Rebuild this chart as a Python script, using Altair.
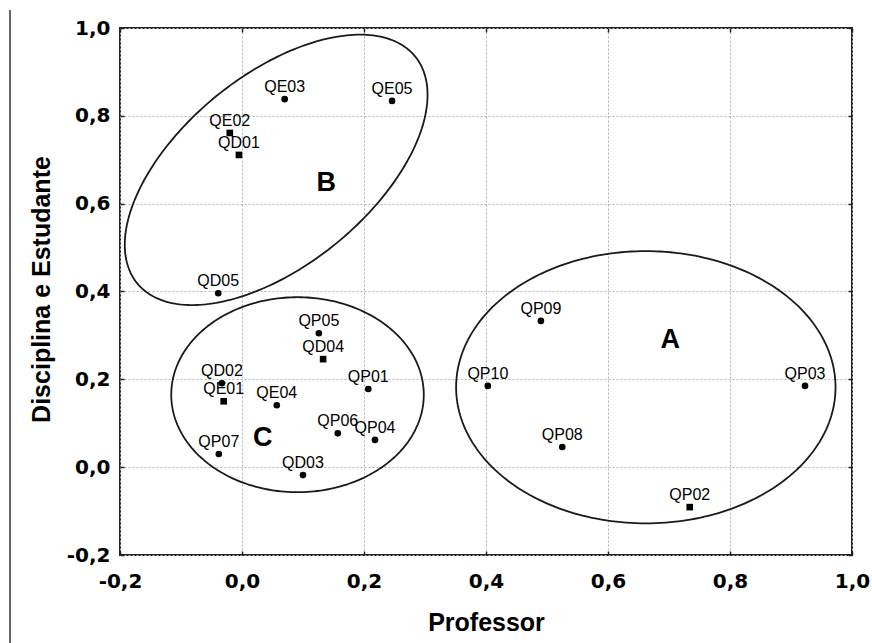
import altair as alt
import numpy as np
import pandas as pd

# ---- data ----
labels = ["QE03", "QE05", "QE02", "QD01", "QD05", "QP05", "QD04", "QD02", "QE01", "QE04",
          "QP01", "QP06", "QP04", "QP07", "QD03", "QP09", "QP10", "QP08", "QP02", "QP03"]
xs = [0.070, 0.246, -0.020, -0.005, -0.039, 0.126, 0.133, -0.033, -0.030, 0.057,
      0.207, 0.157, 0.218, -0.038, 0.100, 0.490, 0.403, 0.525, 0.734, 0.923]
ys = [0.838, 0.834, 0.761, 0.711, 0.396, 0.305, 0.246, 0.191, 0.150, 0.141,
      0.178, 0.077, 0.062, 0.030, -0.018, 0.333, 0.185, 0.046, -0.091, 0.185]
shapes = ["circle", "circle", "square", "square", "circle", "circle", "square", "circle", "square", "circle",
          "circle", "circle", "circle", "circle", "circle", "circle", "circle", "circle", "square", "circle"]

group_names = ["A", "B", "C"]
group_x = [0.702, 0.138, 0.034]
group_y = [0.289, 0.647, 0.066]

# ellipses: centre and two semi-axis vectors (data units)
ell_cx = [0.662, 0.056, 0.091]
ell_cy = [0.182, 0.677, 0.165]
ell_ux = [0.311, 0.228, 0.207]
ell_uy = [0.0, 0.258, 0.0]
ell_vx = [0.0, -0.098, 0.0]
ell_vy = [0.310, 0.168, 0.222]

tick_values = [-0.2, 0.0, 0.2, 0.4, 0.6, 0.8, 1.0]

# ---- tables ----
pts = pd.DataFrame({"label": labels, "x": xs, "y": ys, "shape": shapes})
grp = pd.DataFrame({"g": group_names, "x": group_x, "y": group_y})

rows = []
t = np.linspace(0, 2 * np.pi, 241)
for i, name in enumerate(group_names):
    ex = ell_cx[i] + ell_ux[i] * np.cos(t) + ell_vx[i] * np.sin(t)
    ey = ell_cy[i] + ell_uy[i] * np.cos(t) + ell_vy[i] * np.sin(t)
    for k in range(len(t)):
        rows.append({"e": name, "k": k, "x": ex[k], "y": ey[k]})
ell = pd.DataFrame(rows)

fmt = "replace(replace(format(datum.value, '.1f'), '.', ','), '\u2212', '-')"
dom = [-0.2, 1.0]

x_main = alt.X("x:Q", scale=alt.Scale(domain=dom, nice=False, zero=False),
               axis=alt.Axis(values=tick_values, labelExpr=fmt, title="Professor",
                             labelFont="DejaVu Sans", labelFontWeight="bold", labelFontSize=20,
                             labelColor="black", labelPadding=16, offset=-4,
                             tickSize=4, tickColor="#222", tickWidth=1.5,
                             domain=False, grid=True, gridColor="#b0b0b0", gridDash=[2, 2],
                             gridWidth=1, titleFont="Liberation Sans", titleFontSize=25,
                             titleFontWeight="bold", titleColor="black",
                             titleX=366, titleY=79, titleBaseline="alphabetic",
                             titleAlign="center", labelFlush=False, labelOverlap=False))
y_main = alt.Y("y:Q", scale=alt.Scale(domain=dom, nice=False, zero=False),
               axis=alt.Axis(values=tick_values, labelExpr=fmt, title="Disciplina e Estudante",
                             labelFont="DejaVu Sans", labelFontWeight="bold", labelFontSize=20,
                             labelColor="black", labelPadding=10, offset=-4,
                             tickSize=4, tickColor="#222", tickWidth=1.5,
                             domain=False, grid=True, gridColor="#b0b0b0", gridDash=[2, 2],
                             gridWidth=1, titleFont="Liberation Sans", titleFontSize=25,
                             titleFontWeight="bold", titleColor="black",
                             titleX=-75, titleY=261, titleAngle=270, titleBaseline="alphabetic",
                             titleAlign="center", labelFlush=False, labelOverlap=False))

points = alt.Chart(pts).mark_point(filled=True, size=44, color="black", opacity=1).encode(
    x=x_main, y=y_main, shape=alt.Shape("shape:N", scale=None))

x_top = alt.X("x:Q", scale=alt.Scale(domain=dom, nice=False, zero=False),
              axis=alt.Axis(orient="top", values=tick_values, labels=False, title=None,
                            offset=-4, tickSize=4, tickColor="#222", tickWidth=1.5,
                            domain=False, grid=False))
y_right = alt.Y("y:Q", scale=alt.Scale(domain=dom, nice=False, zero=False),
                axis=alt.Axis(orient="right", values=tick_values, labels=False, title=None,
                              offset=-4, tickSize=4, tickColor="#222", tickWidth=1.5,
                              domain=False, grid=False))

ellipses = alt.Chart(ell).mark_line(color="#1a1a1a", strokeWidth=1.8).encode(
    x=x_top, y=y_right, detail="e:N", order="k:Q")

noax_x = alt.X("x:Q", scale=alt.Scale(domain=dom, nice=False, zero=False), axis=None)
noax_y = alt.Y("y:Q", scale=alt.Scale(domain=dom, nice=False, zero=False), axis=None)

texts = alt.Chart(pts).mark_text(font="Liberation Sans", fontSize=16, color="black",
                                 baseline="alphabetic", align="center", dy=-7).encode(
    x=noax_x, y=noax_y, text="label:N")

letters = alt.Chart(grp).mark_text(font="Liberation Sans", fontSize=27, fontWeight="bold",
                                   color="black", baseline="middle", align="center").encode(
    x=noax_x, y=noax_y, text="g:N")

edge = alt.Chart(pd.DataFrame({"d": [0]})).mark_rule(color="#333", strokeWidth=1.5).encode(
    x=alt.value(-110), y=alt.value(-18), y2=alt.value(615))

chart = alt.layer(points, ellipses, texts, letters, edge).resolve_axis(
    x="independent", y="independent"
).properties(
    width=732, height=527,
    autosize=alt.AutoSizeParams(type="none"),
    padding={"left": 120, "top": 28, "right": 20, "bottom": 88},
    background="white",
).configure_view(stroke="#222", strokeWidth=2)

chart.save("out.html", embed_options={"renderer": "svg", "actions": False})
